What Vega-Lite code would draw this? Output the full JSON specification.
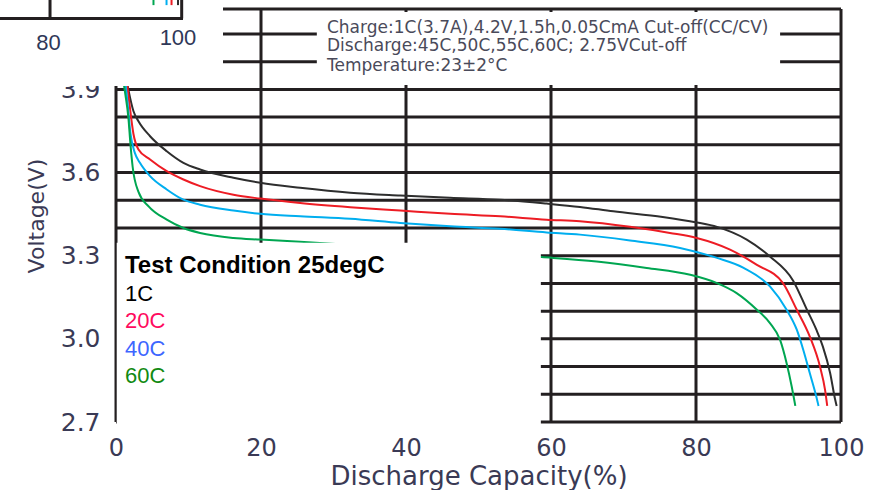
{
  "$schema": "https://vega.github.io/schema/vega-lite/v6.json",
  "width": 725,
  "height": 413,
  "autosize": {"type": "none"},
  "padding": {"left": 116, "top": 9, "right": 33, "bottom": 68},
  "background": "white",
  "datasets": {
    "curves": [
      {"series": "1C", "cap": 1.2, "v": 3.97}, {"series": "1C", "cap": 1.7, "v": 3.9}, {"series": "1C", "cap": 2.4, "v": 3.822},
      {"series": "1C", "cap": 3.1, "v": 3.785}, {"series": "1C", "cap": 4.7, "v": 3.731}, {"series": "1C", "cap": 7.0, "v": 3.677},
      {"series": "1C", "cap": 9.3, "v": 3.635}, {"series": "1C", "cap": 11.6, "v": 3.611}, {"series": "1C", "cap": 16.2, "v": 3.581},
      {"series": "1C", "cap": 19.9, "v": 3.563}, {"series": "1C", "cap": 25.4, "v": 3.545}, {"series": "1C", "cap": 32.3, "v": 3.527},
      {"series": "1C", "cap": 39.2, "v": 3.517}, {"series": "1C", "cap": 46.1, "v": 3.509}, {"series": "1C", "cap": 53.0, "v": 3.502},
      {"series": "1C", "cap": 59.4, "v": 3.488}, {"series": "1C", "cap": 64.0, "v": 3.476}, {"series": "1C", "cap": 68.6, "v": 3.46},
      {"series": "1C", "cap": 75.4, "v": 3.44}, {"series": "1C", "cap": 80.1, "v": 3.42}, {"series": "1C", "cap": 82.9, "v": 3.404},
      {"series": "1C", "cap": 87.0, "v": 3.358}, {"series": "1C", "cap": 90.2, "v": 3.297}, {"series": "1C", "cap": 93.4, "v": 3.21},
      {"series": "1C", "cap": 95.3, "v": 3.105}, {"series": "1C", "cap": 96.6, "v": 3.033}, {"series": "1C", "cap": 97.5, "v": 2.972},
      {"series": "1C", "cap": 98.5, "v": 2.877}, {"series": "1C", "cap": 99.2, "v": 2.78}, {"series": "1C", "cap": 99.4, "v": 2.758},
      {"series": "20C", "cap": 1.3, "v": 3.97}, {"series": "20C", "cap": 1.8, "v": 3.86}, {"series": "20C", "cap": 2.4, "v": 3.74},
      {"series": "20C", "cap": 3.1, "v": 3.683}, {"series": "20C", "cap": 4.7, "v": 3.647}, {"series": "20C", "cap": 7.0, "v": 3.605},
      {"series": "20C", "cap": 9.3, "v": 3.575}, {"series": "20C", "cap": 11.6, "v": 3.551}, {"series": "20C", "cap": 16.2, "v": 3.52},
      {"series": "20C", "cap": 19.9, "v": 3.506}, {"series": "20C", "cap": 25.4, "v": 3.49}, {"series": "20C", "cap": 32.3, "v": 3.475},
      {"series": "20C", "cap": 39.2, "v": 3.463}, {"series": "20C", "cap": 46.1, "v": 3.451}, {"series": "20C", "cap": 53.0, "v": 3.442},
      {"series": "20C", "cap": 59.4, "v": 3.43}, {"series": "20C", "cap": 64.0, "v": 3.424}, {"series": "20C", "cap": 70.9, "v": 3.404},
      {"series": "20C", "cap": 76.4, "v": 3.382}, {"series": "20C", "cap": 80.1, "v": 3.364}, {"series": "20C", "cap": 84.7, "v": 3.322},
      {"series": "20C", "cap": 88.4, "v": 3.267}, {"series": "20C", "cap": 92.0, "v": 3.201}, {"series": "20C", "cap": 93.9, "v": 3.105},
      {"series": "20C", "cap": 95.7, "v": 3.008}, {"series": "20C", "cap": 97.1, "v": 2.9}, {"series": "20C", "cap": 97.8, "v": 2.816},
      {"series": "20C", "cap": 98.1, "v": 2.758},
      {"series": "40C", "cap": 1.1, "v": 3.97}, {"series": "40C", "cap": 1.6, "v": 3.85}, {"series": "40C", "cap": 2.0, "v": 3.74},
      {"series": "40C", "cap": 2.6, "v": 3.671}, {"series": "40C", "cap": 3.3, "v": 3.635}, {"series": "40C", "cap": 4.7, "v": 3.587},
      {"series": "40C", "cap": 7.0, "v": 3.539}, {"series": "40C", "cap": 9.3, "v": 3.502}, {"series": "40C", "cap": 11.6, "v": 3.484},
      {"series": "40C", "cap": 16.2, "v": 3.463}, {"series": "40C", "cap": 19.9, "v": 3.451}, {"series": "40C", "cap": 25.4, "v": 3.442},
      {"series": "40C", "cap": 32.3, "v": 3.433}, {"series": "40C", "cap": 39.2, "v": 3.418}, {"series": "40C", "cap": 46.1, "v": 3.406},
      {"series": "40C", "cap": 53.0, "v": 3.397}, {"series": "40C", "cap": 59.4, "v": 3.384}, {"series": "40C", "cap": 64.0, "v": 3.376},
      {"series": "40C", "cap": 70.9, "v": 3.355}, {"series": "40C", "cap": 77.8, "v": 3.328}, {"series": "40C", "cap": 82.9, "v": 3.292},
      {"series": "40C", "cap": 86.5, "v": 3.257}, {"series": "40C", "cap": 90.2, "v": 3.189}, {"series": "40C", "cap": 92.5, "v": 3.105},
      {"series": "40C", "cap": 93.9, "v": 3.033}, {"series": "40C", "cap": 94.8, "v": 2.96}, {"series": "40C", "cap": 95.7, "v": 2.876},
      {"series": "40C", "cap": 96.6, "v": 2.791}, {"series": "40C", "cap": 96.9, "v": 2.758},
      {"series": "60C", "cap": 0.8, "v": 3.97}, {"series": "60C", "cap": 1.3, "v": 3.88}, {"series": "60C", "cap": 1.7, "v": 3.8},
      {"series": "60C", "cap": 2.0, "v": 3.7}, {"series": "60C", "cap": 2.3, "v": 3.62}, {"series": "60C", "cap": 3.1, "v": 3.53},
      {"series": "60C", "cap": 4.5, "v": 3.478}, {"series": "60C", "cap": 7.0, "v": 3.43}, {"series": "60C", "cap": 9.3, "v": 3.4},
      {"series": "60C", "cap": 11.6, "v": 3.382}, {"series": "60C", "cap": 16.2, "v": 3.364}, {"series": "60C", "cap": 19.9, "v": 3.358},
      {"series": "60C", "cap": 25.4, "v": 3.35}, {"series": "60C", "cap": 35.0, "v": 3.335}, {"series": "60C", "cap": 45.0, "v": 3.32},
      {"series": "60C", "cap": 52.0, "v": 3.307}, {"series": "60C", "cap": 58.7, "v": 3.295}, {"series": "60C", "cap": 66.3, "v": 3.279},
      {"series": "60C", "cap": 73.2, "v": 3.256}, {"series": "60C", "cap": 79.2, "v": 3.231}, {"series": "60C", "cap": 82.9, "v": 3.201},
      {"series": "60C", "cap": 85.6, "v": 3.165}, {"series": "60C", "cap": 88.4, "v": 3.105}, {"series": "60C", "cap": 90.2, "v": 3.057},
      {"series": "60C", "cap": 91.6, "v": 2.996}, {"series": "60C", "cap": 92.5, "v": 2.912}, {"series": "60C", "cap": 93.2, "v": 2.828},
      {"series": "60C", "cap": 93.7, "v": 2.758}
    ],
    "hgrid": [
      {"v": 2.7}, {"v": 2.8}, {"v": 2.9}, {"v": 3.0}, {"v": 3.1}, {"v": 3.2}, {"v": 3.3}, {"v": 3.4},
      {"v": 3.5}, {"v": 3.6}, {"v": 3.7}, {"v": 3.8}, {"v": 3.9}, {"v": 4.0}, {"v": 4.1}, {"v": 4.19}
    ],
    "vgrid": [{"cap": 0}, {"cap": 20}, {"cap": 40}, {"cap": 60}, {"cap": 80}, {"cap": 100}],
    "boxes": [
      {"cap": 0.1, "cap2": 58.6, "v": 2.689, "v2": 3.347},
      {"cap": 27.7, "cap2": 91.6, "v": 3.916, "v2": 4.179},
      {"cap": -17.4, "cap2": 14.76, "v": 3.912, "v2": 4.26}
    ],
    "fragLines": [
      {"cap": -16.0, "cap2": 9.24, "v": 4.156, "v2": 4.156},
      {"cap": -9.1, "cap2": -9.1, "v": 4.156, "v2": 4.23},
      {"cap": 9.06, "cap2": 9.06, "v": 4.156, "v2": 4.23}
    ],
    "fragStubs": [
      {"series": "60C", "cap": 5.17, "v": 4.204, "v2": 4.23},
      {"series": "40C", "cap": 6.97, "v": 4.204, "v2": 4.23},
      {"series": "20C", "cap": 7.66, "v": 4.204, "v2": 4.23},
      {"series": "1C", "cap": 8.55, "v": 4.204, "v2": 4.23}
    ],
    "fragText": [
      {"cap": -9.31, "v": 4.069, "t": "80"},
      {"cap": 8.55, "v": 4.087, "t": "100"}
    ],
    "notes": [
      {"cap": 29.1, "v": 4.123, "t": "Charge:1C(3.7A),4.2V,1.5h,0.05CmA Cut-off(CC/CV)"},
      {"cap": 29.1, "v": 4.055, "t": "Discharge:45C,50C,55C,60C; 2.75VCut-off"},
      {"cap": 29.1, "v": 3.984, "t": "Temperature:23±2°C"}
    ],
    "legendTitle": [{"cap": 1.24, "v": 3.2365, "t": "Test Condition 25degC"}],
    "legendLabels": [
      {"cap": 1.24, "v": 3.1365, "label": "1C"},
      {"cap": 1.24, "v": 3.039, "label": "20C"},
      {"cap": 1.24, "v": 2.938, "label": "40C"},
      {"cap": 1.24, "v": 2.8407, "label": "60C"}
    ]
  },
  "layer": [
    {
      "data": {"name": "hgrid"},
      "mark": {"type": "rule", "stroke": "#231f20", "strokeWidth": 3},
      "encoding": {
        "y": {"field": "v", "type": "quantitative", "scale": {"domain": [2.7, 4.19], "nice": false, "zero": false},
              "axis": {"title": "Voltage(V)", "values": [2.7, 3.0, 3.3, 3.6, 3.9], "format": ".1f"}}
      }
    },
    {
      "data": {"name": "vgrid"},
      "mark": {"type": "rule", "stroke": "#231f20", "strokeWidth": 3},
      "encoding": {
        "x": {"field": "cap", "type": "quantitative", "scale": {"domain": [0, 100], "nice": false, "zero": false},
              "axis": {"title": "Discharge Capacity(%)", "values": [0, 20, 40, 60, 80, 100], "format": "d"}}
      }
    },
    {
      "data": {"name": "curves"},
      "mark": {"type": "line", "strokeWidth": 2, "interpolate": "monotone"},
      "encoding": {
        "x": {"field": "cap", "type": "quantitative", "scale": {"domain": [0, 100], "nice": false, "zero": false},
              "axis": {"title": "Discharge Capacity(%)", "values": [0, 20, 40, 60, 80, 100], "format": "d"}},
        "y": {"field": "v", "type": "quantitative", "scale": {"domain": [2.7, 4.19], "nice": false, "zero": false},
              "axis": {"title": "Voltage(V)", "values": [2.7, 3.0, 3.3, 3.6, 3.9], "format": ".1f"}},
        "color": {"field": "series", "type": "nominal",
                  "scale": {"domain": ["1C", "20C", "40C", "60C"], "range": ["#2e2e2e", "#ed1c24", "#00aeef", "#00a651"]},
                  "legend": null},
        "detail": {"field": "series"}
      }
    },
    {
      "data": {"name": "boxes"},
      "mark": {"type": "rect", "fill": "white", "stroke": null},
      "encoding": {
        "x": {"field": "cap", "type": "quantitative", "scale": {"domain": [0, 100], "nice": false, "zero": false},
              "axis": {"title": "Discharge Capacity(%)", "values": [0, 20, 40, 60, 80, 100], "format": "d"}},
        "x2": {"field": "cap2"},
        "y": {"field": "v", "type": "quantitative", "scale": {"domain": [2.7, 4.19], "nice": false, "zero": false},
              "axis": {"title": "Voltage(V)", "values": [2.7, 3.0, 3.3, 3.6, 3.9], "format": ".1f"}},
        "y2": {"field": "v2"}
      }
    },
    {
      "data": {"name": "fragLines"},
      "mark": {"type": "rule", "stroke": "#231f20", "strokeWidth": 3},
      "encoding": {
        "x": {"field": "cap", "type": "quantitative", "scale": {"domain": [0, 100], "nice": false, "zero": false},
              "axis": {"title": "Discharge Capacity(%)", "values": [0, 20, 40, 60, 80, 100], "format": "d"}},
        "x2": {"field": "cap2"},
        "y": {"field": "v", "type": "quantitative", "scale": {"domain": [2.7, 4.19], "nice": false, "zero": false},
              "axis": {"title": "Voltage(V)", "values": [2.7, 3.0, 3.3, 3.6, 3.9], "format": ".1f"}},
        "y2": {"field": "v2"}
      }
    },
    {
      "data": {"name": "fragStubs"},
      "mark": {"type": "rule", "strokeWidth": 2},
      "encoding": {
        "x": {"field": "cap", "type": "quantitative", "scale": {"domain": [0, 100], "nice": false, "zero": false},
              "axis": {"title": "Discharge Capacity(%)", "values": [0, 20, 40, 60, 80, 100], "format": "d"}},
        "y": {"field": "v", "type": "quantitative", "scale": {"domain": [2.7, 4.19], "nice": false, "zero": false},
              "axis": {"title": "Voltage(V)", "values": [2.7, 3.0, 3.3, 3.6, 3.9], "format": ".1f"}},
        "y2": {"field": "v2"},
        "color": {"field": "series", "type": "nominal",
                  "scale": {"domain": ["1C", "20C", "40C", "60C"], "range": ["#2e2e2e", "#ed1c24", "#00aeef", "#00a651"]},
                  "legend": null}
      }
    },
    {
      "data": {"name": "fragText"},
      "mark": {"type": "text", "font": "Liberation Sans", "fontSize": 22, "fill": "#2f3858", "align": "center", "baseline": "middle"},
      "encoding": {
        "x": {"field": "cap", "type": "quantitative", "scale": {"domain": [0, 100], "nice": false, "zero": false},
              "axis": {"title": "Discharge Capacity(%)", "values": [0, 20, 40, 60, 80, 100], "format": "d"}},
        "y": {"field": "v", "type": "quantitative", "scale": {"domain": [2.7, 4.19], "nice": false, "zero": false},
              "axis": {"title": "Voltage(V)", "values": [2.7, 3.0, 3.3, 3.6, 3.9], "format": ".1f"}},
        "text": {"field": "t"}
      }
    },
    {
      "data": {"name": "notes"},
      "mark": {"type": "text", "font": "DejaVu Sans", "fontSize": 17, "fill": "#4a4a5a", "align": "left", "baseline": "middle"},
      "encoding": {
        "x": {"field": "cap", "type": "quantitative", "scale": {"domain": [0, 100], "nice": false, "zero": false},
              "axis": {"title": "Discharge Capacity(%)", "values": [0, 20, 40, 60, 80, 100], "format": "d"}},
        "y": {"field": "v", "type": "quantitative", "scale": {"domain": [2.7, 4.19], "nice": false, "zero": false},
              "axis": {"title": "Voltage(V)", "values": [2.7, 3.0, 3.3, 3.6, 3.9], "format": ".1f"}},
        "text": {"field": "t"}
      }
    },
    {
      "data": {"name": "legendTitle"},
      "mark": {"type": "text", "font": "Liberation Sans", "fontSize": 24, "fontWeight": "bold", "fill": "black", "align": "left", "baseline": "alphabetic"},
      "encoding": {
        "x": {"field": "cap", "type": "quantitative", "scale": {"domain": [0, 100], "nice": false, "zero": false},
              "axis": {"title": "Discharge Capacity(%)", "values": [0, 20, 40, 60, 80, 100], "format": "d"}},
        "y": {"field": "v", "type": "quantitative", "scale": {"domain": [2.7, 4.19], "nice": false, "zero": false},
              "axis": {"title": "Voltage(V)", "values": [2.7, 3.0, 3.3, 3.6, 3.9], "format": ".1f"}},
        "text": {"field": "t"}
      }
    },
    {
      "data": {"name": "legendLabels"},
      "mark": {"type": "text", "font": "Liberation Sans", "fontSize": 22, "align": "left", "baseline": "alphabetic"},
      "encoding": {
        "x": {"field": "cap", "type": "quantitative", "scale": {"domain": [0, 100], "nice": false, "zero": false},
              "axis": {"title": "Discharge Capacity(%)", "values": [0, 20, 40, 60, 80, 100], "format": "d"}},
        "y": {"field": "v", "type": "quantitative", "scale": {"domain": [2.7, 4.19], "nice": false, "zero": false},
              "axis": {"title": "Voltage(V)", "values": [2.7, 3.0, 3.3, 3.6, 3.9], "format": ".1f"}},
        "text": {"field": "label"},
        "fill": {"field": "label", "type": "nominal",
                 "scale": {"domain": ["1C", "20C", "40C", "60C"], "range": ["#000000", "#ff0a5e", "#3d66ff", "#128a12"]},
                 "legend": null}
      }
    }
  ],
  "config": {
    "view": {"stroke": null},
    "axis": {
      "grid": false, "domain": false, "ticks": false, "labelFlush": false,
      "labelFont": "DejaVu Sans", "labelColor": "#3a3a55",
      "titleFont": "DejaVu Sans", "titleColor": "#3a3a55", "titleFontWeight": "normal"
    },
    "axisX": {"labelFontSize": 24, "labelPadding": 14, "titleFontSize": 26, "titlePadding": 3},
    "axisY": {"labelFontSize": 25, "labelPadding": 16, "titleFontSize": 22, "titlePadding": 12}
  }
}
